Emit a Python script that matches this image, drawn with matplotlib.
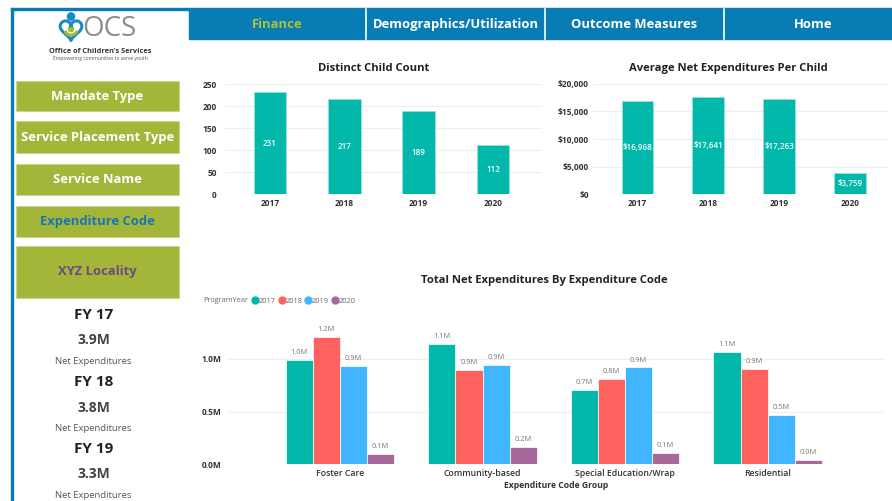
import matplotlib
matplotlib.use('Agg')
import matplotlib.pyplot as plt
from matplotlib.patches import Rectangle, Circle
from matplotlib.lines import Line2D
import numpy as np

plt.rcParams['font.family'] = ['Open Sans', 'DejaVu Sans']

W, H = 892, 501

# data
years = ['2017', '2018', '2019', '2020']
child_count = [231, 217, 189, 112]
avg_per_child = [16968, 17641, 17263, 3759]
code_groups = ['Foster Care', 'Community-based', 'Special Education/Wrap', 'Residential']
exp_2017 = [0.995e6, 1.14e6, 0.705e6, 1.066e6]
exp_2018 = [1.21e6, 0.90e6, 0.81e6, 0.908e6]
exp_2019 = [0.93e6, 0.94e6, 0.92e6, 0.465e6]
exp_2020 = [0.10e6, 0.165e6, 0.107e6, 0.038e6]
year_colors = ['#01B8AA', '#FD625E', '#3FB6FF', '#A66999']

nav_items = ['Finance', 'Demographics/Utilization', 'Outcome Measures', 'Home']
buttons = ['Mandate Type', 'Service Placement Type', 'Service Name', 'Expenditure Code', 'XYZ Locality']
fy_labels = ['FY 17', 'FY 18', 'FY 19']
fy_totals = ['3.9M', '3.8M', '3.3M']

BLUE = '#0a7cb4'
OLIVE = '#a4b63a'
TEAL = '#01B8AA'
DARK = '#333333'


def px_axes(fig, x0, y0, x1, y1):
    return fig.add_axes([x0 / W, 1 - y1 / H, (x1 - x0) / W, (y1 - y0) / H])


def style(ax, ypad):
    ax.set_facecolor('none')
    for s in ax.spines.values():
        s.set_visible(False)
    ax.grid(axis='y', color='#eeeeee', lw=0.8)
    ax.set_axisbelow(True)
    ax.tick_params(length=0, labelsize=6, labelcolor=DARK)
    ax.tick_params(axis='y', pad=ypad)
    for lab in ax.get_xticklabels() + ax.get_yticklabels():
        lab.set_fontweight('bold')


fig = plt.figure(figsize=(W / 100, H / 100), dpi=100)
bg = fig.add_axes([0, 0, 1, 1])
bg.set_xlim(0, W)
bg.set_ylim(H, 0)
bg.axis('off')

# frame + nav bar
bg.add_patch(Rectangle((10.5, 7.5), 179, 2.5, color=BLUE))
bg.add_patch(Rectangle((10.5, 7.5), 2.5, 500, color=BLUE))
bg.add_patch(Rectangle((189, 7.5), 710, 31.5, color=BLUE))
bounds = [189, 366, 545, 724, 902]
for b in bounds[1:-1]:
    bg.plot([b, b], [9, 39], color='white', lw=1.2)
for i, item in enumerate(nav_items):
    bg.text((bounds[i] + bounds[i + 1]) / 2, 24.5, item, ha='center', va='center',
            fontsize=9.4, fontweight='bold', color='#a9c23f' if i == 0 else 'white')

# logo
t = np.linspace(0, 2 * np.pi, 200)
hx = 16 * np.sin(t) ** 3
hy = 13 * np.cos(t) - 5 * np.cos(2 * t) - 2 * np.cos(3 * t) - np.cos(4 * t)
bg.plot(71 + hx * 0.68, 29 - hy * 0.68, color='#1a8ac6', lw=2.2)
bg.add_patch(Circle((71, 16.5), 3.6, color='#1a8ac6'))
bg.add_patch(Circle((71, 29), 2.6, color='#9cbf2b'))
a = np.linspace(np.pi * 0.15, np.pi * 0.85, 40)
bg.plot(71 + 6 * np.cos(a), 30 + 5 * np.sin(a), color='#9cbf2b', lw=2.2)
bg.text(82, 29, 'OCS', ha='left', va='center', fontsize=20, color='#8c8c8c')
bg.text(100, 51, "Office of Children's Services", ha='center', va='center',
        fontsize=5.3, fontweight='bold', color='#333333')
bg.text(100, 58, 'Empowering communities to serve youth', ha='center', va='center',
        fontsize=3.6, color='#555555')

# sidebar buttons
btn_boxes = [(81, 111), (121, 153), (164, 195), (206, 237), (246, 298)]
btn_colors = ['white', 'white', 'white', '#1a74b4', '#6f4a7c']
for name, (y0, y1), c in zip(buttons, btn_boxes, btn_colors):
    bg.add_patch(Rectangle((16, y0), 163, y1 - y0, facecolor=OLIVE, edgecolor='#c9d48e', lw=0.8))
    bg.text(97.5, (y0 + y1) / 2, name, ha='center', va='center', fontsize=9.4,
            fontweight='bold', color=c)

# KPI cards
for i in range(3):
    y = 315 + i * 67
    bg.text(93.5, y, fy_labels[i], ha='center', va='center', fontsize=11,
            fontweight='bold', color='#222222')
    bg.text(93.5, y + 25.5, fy_totals[i], ha='center', va='center', fontsize=10,
            fontweight='bold', color='#444444')
    bg.text(93.5, y + 46.5, 'Net Expenditures', ha='center', va='center',
            fontsize=6.8, color='#555555')

# chart titles
bg.text(374, 68, 'Distinct Child Count', ha='center', va='center', fontsize=8.1,
        fontweight='bold', color='#222222')
bg.text(728, 68, 'Average Net Expenditures Per Child', ha='center', va='center',
        fontsize=8.1, fontweight='bold', color='#222222')
bg.text(544, 281, 'Total Net Expenditures By Expenditure Code', ha='center',
        va='center', fontsize=8.1, fontweight='bold', color='#222222')

x = np.arange(len(years))

# Distinct Child Count
ax1 = px_axes(fig, 225, 84, 542, 194)
ax1.bar(x, child_count, width=0.44, color=TEAL, edgecolor='#9fe3dd', lw=0.5)
ax1.set_xlim(-0.606, 3.66)
ax1.set_ylim(0, 250)
ax1.set_yticks(range(0, 251, 50))
ax1.set_xticks(x, years)
style(ax1, 6)
for xi, v in zip(x, child_count):
    ax1.text(xi, v / 2, str(v), ha='center', va='center', fontsize=5.8,
             fontweight='semibold', color='white')

# Average Net Expenditures Per Child
ax2 = px_axes(fig, 593, 84, 888, 194)
ax2.bar(x, avg_per_child, width=0.45, color=TEAL, edgecolor='#9fe3dd', lw=0.5)
ax2.set_xlim(-0.63, 3.54)
ax2.set_ylim(0, 20000)
yt = list(range(0, 20001, 5000))
ax2.set_yticks(yt, [f'${v:,}' for v in yt])
ax2.set_xticks(x, years)
style(ax2, 3)
for xi, v in zip(x, avg_per_child):
    ax2.text(xi, v / 2, f'${v:,}', ha='center', va='center', fontsize=5.8,
             fontweight='semibold', color='white')

# Total Net Expenditures By Expenditure Code
ax3 = px_axes(fig, 228, 327.4, 884, 464.3)
series = [exp_2017, exp_2018, exp_2019, exp_2020]
bw = 0.19
for i, (yr, vals, c) in enumerate(zip(years, series, year_colors)):
    pos = x + (i - 1.5) * bw
    ax3.bar(pos, vals, width=bw, color=c, edgecolor='white', lw=0.5)
    for p, v in zip(pos, vals):
        ax3.annotate(f'{v / 1e6:.1f}M', (p, v), xytext=(0, 2.8), textcoords='offset points',
                     ha='center', va='bottom', fontsize=5.3, color='#777777')
ax3.set_xlim(-0.785, 3.816)
ax3.set_ylim(0, 1.3e6)
ax3.set_yticks([0, 0.5e6, 1e6], ['0.0M', '0.5M', '1.0M'])
ax3.set_xticks(x, code_groups)
style(ax3, 4.5)
for lab in ax3.get_xticklabels():
    lab.set_fontweight('semibold')
    lab.set_fontsize(6.3)
bg.text(556, 485, 'Expenditure Code Group', ha='center', va='center', fontsize=6.2,
        fontweight='bold', color=DARK)

# legend
bg.text(203, 301, 'ProgramYear', ha='left', va='center', fontsize=5.2, color='#666666')
handles = [Line2D([], [], marker='o', ls='none', color=c, markersize=5) for c in year_colors]
fig.legend(handles, years, loc='center left', bbox_to_anchor=(251 / W, 1 - 301 / H),
           ncol=4, frameon=False, fontsize=5.4, labelcolor='#666666',
           handletextpad=0.0, columnspacing=0.3, handlelength=1.0, borderaxespad=0,
           borderpad=0)

fig.savefig('out.png', dpi=100)
